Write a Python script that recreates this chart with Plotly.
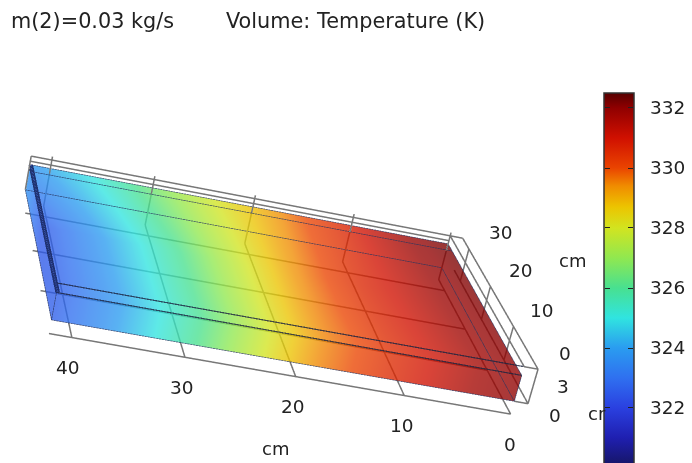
import numpy as np
import plotly.graph_objects as go

# ---------- data ----------
x_stations = [0, 4, 8.5, 12, 15, 18.5, 22, 25.7, 29.3, 33, 37.5, 42]          # cm
y_stations = [0, 16, 33]                                                        # cm
T_y0  = [332.0, 331.7, 331.0, 330.5, 330.0, 329.4, 328.4, 327.2, 326.0, 325.0, 323.7, 322.6]
T_y16 = [332.1, 331.8, 331.1, 330.6, 330.05, 329.3, 328.3, 327.2, 326.0, 325.0, 323.7, 322.5]
T_y33 = [332.2, 331.9, 331.1, 330.4, 329.9, 329.1, 328.4, 327.6, 326.7, 325.7, 324.7, 323.8]
x_ticks = [0, 10, 20, 30, 40]
y_ticks = [0, 10, 20, 30]
z_ticks = [0, 3]
cbar_ticks = [322, 324, 326, 328, 330, 332]
title_left = "m(2)=0.03 kg/s"
title_right = "Volume: Temperature (K)"
unit = "cm"
unit_cut = "cr"     # what stays visible of the third unit where the colour bar covers it in the original
BOX_X, BOX_Y, BOX_Z = 42.0, 33.0, 3.0

colorscale_T = [319.93, 321, 322, 323, 324, 325, 326, 327, 328, 328.7, 329.4, 330, 331, 332, 332.5]
colorscale_C = ["#14145a", "#1f1fb0", "#2a40e0", "#2f70f0", "#2a9cf0", "#30e4e0", "#48e090", "#90e850",
                "#d2e420", "#ecc400", "#f08c00", "#ea4400", "#d01000", "#900000", "#560000"]

# ---------- page and camera ----------
WIN_W, FIG_H = 692, 2260      # tall page: its top 463 px fill the window, giving the long lens of the original
SCENE_W = 560
CMAX, CMIN = 332.5, 319.93
PX_PER_K = 30
X_R, Y_R, Z_R = (-46.0, 2.0), (-1.0, 35.0), (-2.0, 5.0)
MID = np.array([sum(X_R) / 2, sum(Y_R) / 2, sum(Z_R) / 2])

corners3d = np.array([[-42, 0, 0], [-42, 0, 3], [-42, 33, 0], [-42, 33, 3],
                      [0, 0, 0], [0, 0, 3], [0, 33, 0], [0, 33, 3]], float)
corners2d = np.array([[50, 320], [58, 292], [23, 188], [32, 167],
                      [514, 402], [522, 375], [442, 268], [448, 243]], float)

def project(p):
    s, eye, cen, up = p[:3], p[3:6], p[6:9], p[9:12]
    q = (corners3d - MID) * s
    f = cen - eye; f = f / np.linalg.norm(f)
    r = np.cross(f, up); r = r / np.linalg.norm(r)
    u = np.cross(r, f)
    d = q - eye
    F = FIG_H / 2 / np.tan(np.pi / 8)
    return np.c_[SCENE_W / 2 + F * (d @ r) / (d @ f), FIG_H / 2 - F * (d @ u) / (d @ f)]

def solve_camera():
    p = np.array([0.0217, 0.0229, 0.0175, -1.11, -5.34, 1.69, -0.02, -1.66, -0.90, 0.01, 0.91, 0.49])
    res = lambda v: (project(v) - corners2d).ravel()
    lam, c = 1e-2, res(p)
    for _ in range(400):
        J = np.zeros((c.size, 12))
        for i in range(12):
            dp = p.copy(); dp[i] += 1e-6; J[:, i] = (res(dp) - c) / 1e-6
        A = J.T @ J
        n = p + np.linalg.solve(A + lam * np.diag(np.diag(A) + 1e-6), -(J.T @ c))
        cn = res(n)
        if cn @ cn < c @ c:
            p, c, lam = n, cn, max(lam * .5, 1e-9)
        else:
            lam = min(lam * 3, 1e8)
    return p

cam = solve_camera()

# ---------- traces ----------
u_st = -np.array(x_stations, float)
y_st = np.array(y_stations, float)
T = np.array([T_y0, T_y16, T_y33])
common = dict(coloraxis="coloraxis", opacity=0.78, showscale=False, hoverinfo="skip",
              lighting=dict(ambient=1, diffuse=0, specular=0, fresnel=0, roughness=1))

U, Y = np.meshgrid(u_st, y_st)
top = go.Surface(x=U, y=Y, z=np.full(U.shape, BOX_Z), surfacecolor=T, **common)
Uf, Zf = np.meshgrid(u_st, [0, BOX_Z])
front = go.Surface(x=Uf, y=np.zeros(Uf.shape), z=Zf, surfacecolor=np.array([T_y0, T_y0]), **common)
Yl, Zl = np.meshgrid(y_st, [0, BOX_Z])
left = go.Surface(x=np.full(Yl.shape, -BOX_X), y=Yl, z=Zl,
                  surfacecolor=np.array([T[:, -1], T[:, -1]]), **common)

def lines(segs, color, width, opacity=1.0, dash="solid"):
    xs, ys, zs = [], [], []
    for a, b in segs:
        xs += [-a[0], -b[0], None]; ys += [a[1], b[1], None]; zs += [a[2], b[2], None]
    return go.Scatter3d(x=xs, y=ys, z=zs, mode="lines", opacity=opacity, hoverinfo="skip", showlegend=False,
                        line=dict(color=color, width=width, dash=dash), connectgaps=False)

FLOOR, ROOF, WALL_X, SUB = -1.5, 4.0, -1.3, 3.4
grid = []
for v in y_ticks:
    grid.append(((0, v, FLOOR), (BOX_X, v, FLOOR)))
    grid.append(((WALL_X, v, 0), (WALL_X, v, ROOF)))
for v in x_ticks:
    grid.append(((v, 0, FLOOR), (v, BOX_Y, FLOOR)))
    grid.append(((v, BOX_Y, FLOOR), (v, BOX_Y, ROOF + .4)))
grid += [((0, 0, FLOOR), (BOX_X, 0, FLOOR)),
         ((WALL_X, 0, 0), (WALL_X, BOX_Y, 0)), ((WALL_X, 0, ROOF), (WALL_X, BOX_Y, ROOF)),
         ((0, 0, ROOF), (0, BOX_Y, ROOF)), ((0, BOX_Y, ROOF), (WALL_X, BOX_Y, ROOF)),
         ((0, 0, ROOF), (WALL_X, 0, ROOF)), ((0, 0, 0), (WALL_X, 0, 0)),
         ((0, BOX_Y, ROOF), (BOX_X, BOX_Y, ROOF)), ((0, BOX_Y, SUB), (BOX_X, BOX_Y, SUB)),
         ((BOX_X, BOX_Y, 0), (BOX_X, BOX_Y, ROOF))]
geom = [((0, 0, BOX_Z), (BOX_X, 0, BOX_Z)), ((0, 0, ROOF), (BOX_X, 0, ROOF))]
edges = [((0, 0, 0), (BOX_X, 0, 0)), ((0, 0, 0), (0, BOX_Y, 0)), ((0, BOX_Y, 0), (BOX_X, BOX_Y, 0)),
         ((BOX_X, 0, 0), (BOX_X, BOX_Y, 0)), ((BOX_X, 0, 0), (BOX_X, 0, BOX_Z)),
         ((0, 0, BOX_Z), (0, BOX_Y, BOX_Z)), ((0, BOX_Y, BOX_Z), (BOX_X, BOX_Y, BOX_Z)),
         ((BOX_X, BOX_Y, 0), (BOX_X, BOX_Y, BOX_Z)), ((0, 0, 0), (0, 0, BOX_Z)),
         ((0, BOX_Y - 2, BOX_Z), (BOX_X, BOX_Y - 2, BOX_Z))]
strip = [((BOX_X - .1, 0, BOX_Z), (BOX_X - .1, BOX_Y, BOX_Z))]

traces = [top, front, left,
          lines(grid, "#777777", 3),
          lines(edges, "#27345f", 1.6, .65),
          lines(geom, "#1c2440", 2.4, .8),
          lines(strip, "#1a2a66", 9, .92),
          lines(strip, "#4a6ad0", 3, .8, "dot")]
fig = go.Figure(traces)

# ---------- text anchored to the data through the scene ----------
ann3d = []
def label(text, x, y, z, dx, dy, size=18.5, **extra):
    opts = dict(xanchor="center", yanchor="middle")
    opts.update(extra)
    ann3d.append(dict(x=-x, y=y, z=z, text=text, showarrow=False, xshift=dx, yshift=-dy,
                      font=dict(family="DejaVu Sans", size=size, color="#222"), **opts))
for v in x_ticks:
    label(str(v), v, 0, FLOOR, -1 - v * .08, 30)
for v in y_ticks:
    label(str(v), WALL_X, v, ROOF, 27 + v * .17, -16)
for v in z_ticks:
    label(str(v), WALL_X, 0, v, 27, 12 - v)
label(unit, 21.5, 0, FLOOR, -4, 75, 18)
label(unit, WALL_X, 20, ROOF, 82, -26, 18)
label(unit_cut, WALL_X, 0, 0, 58, 10, 18, xanchor="left")

def py(px):
    return 1 - px / FIG_H

bar_top = 108 - (CMAX - 332) * PX_PER_K
bar_left, bar_w = 604, 30
annots = [dict(xref="paper", yref="paper", x=9 / WIN_W, y=py(21), text=title_left, showarrow=False,
               xanchor="left", yanchor="middle", font=dict(family="DejaVu Sans", size=20.8, color="#222")),
          dict(xref="paper", yref="paper", x=224 / WIN_W, y=py(21), text=title_right, showarrow=False,
               xanchor="left", yanchor="middle", font=dict(family="DejaVu Sans", size=20.8, color="#222"))]
# inner tick marks on both edges of the bar: small filled boxes, since they must sit above the colour bar
for v in cbar_ticks:
    tick_y = py(bar_top + (CMAX - v) * PX_PER_K)
    for a in (bar_left + 1, bar_left + bar_w - 6):
        annots.append(dict(xref="paper", yref="paper", x=a / WIN_W, y=tick_y, text=" ", showarrow=False,
                           xanchor="left", yanchor="middle", width=5, height=1, bgcolor="#222",
                           borderpad=0, borderwidth=0, font=dict(size=1)))

norm = [(t - CMIN) / (CMAX - CMIN) for t in colorscale_T]
fig.update_layout(
    width=WIN_W, height=FIG_H, margin=dict(l=0, r=0, t=0, b=0, autoexpand=False),
    paper_bgcolor="white", showlegend=False, annotations=annots,
    coloraxis=dict(cmin=CMIN, cmax=CMAX, colorscale=[[n, c] for n, c in zip(norm, colorscale_C)],
                   colorbar=dict(x=bar_left / WIN_W, xanchor="left", xpad=0, ypad=0, y=py(bar_top), yanchor="top",
                                 thickness=bar_w, thicknessmode="pixels", len=(CMAX - CMIN) * PX_PER_K, lenmode="pixels",
                                 tickvals=cbar_ticks, ticks="outside", ticklen=12, tickcolor="rgba(0,0,0,0)", tickwidth=1,
                                 outlinecolor="#333", outlinewidth=1.5,
                                 tickfont=dict(family="DejaVu Sans", size=18.5, color="#222"))),
    scene=dict(
        domain=dict(x=[0, SCENE_W / WIN_W], y=[0, 1]),
        bgcolor="white", dragmode="orbit", aspectmode="manual",
        aspectratio=dict(x=cam[0] * (X_R[1] - X_R[0]), y=cam[1] * (Y_R[1] - Y_R[0]), z=cam[2] * (Z_R[1] - Z_R[0])),
        xaxis=dict(visible=False, range=list(X_R)), yaxis=dict(visible=False, range=list(Y_R)),
        zaxis=dict(visible=False, range=list(Z_R)),
        camera=dict(eye=dict(x=cam[3], y=cam[4], z=cam[5]), center=dict(x=cam[6], y=cam[7], z=cam[8]),
                    up=dict(x=cam[9], y=cam[10], z=cam[11])),
        annotations=ann3d),
)
fig.write_html("out.html", config=dict(displayModeBar=False),
               post_script="document.documentElement.style.overflow='hidden';"
               "document.body.style.overflow='hidden';document.body.style.margin='0';")
